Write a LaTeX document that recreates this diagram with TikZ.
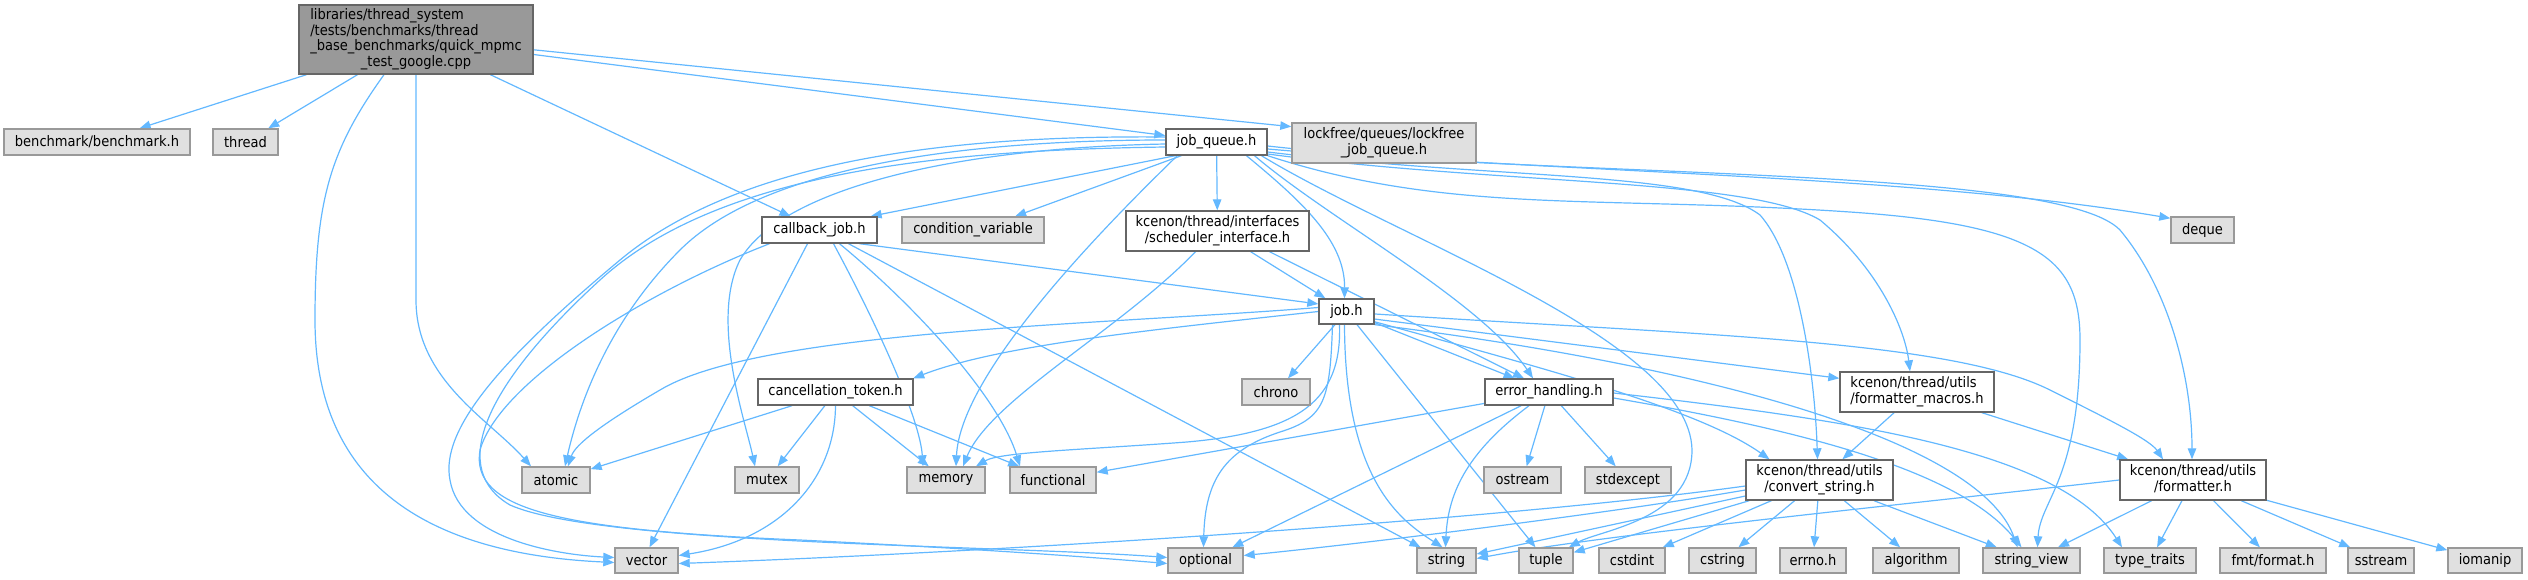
\documentclass[tikz,border=0pt]{standalone}
\usepackage{fontspec}
\setmainfont{DejaVu Sans}[FakeStretch=0.9]
\usetikzlibrary{arrows.meta}
\definecolor{edgec}{HTML}{63B8FF}
\definecolor{grayfill}{HTML}{E0E0E0}
\definecolor{grayline}{HTML}{999999}
\definecolor{darkline}{HTML}{666666}
\definecolor{rootfill}{HTML}{999999}
\pgfdeclarelayer{bg}
\pgfsetlayers{bg,main}
\newcommand{\mlines}[1]{\begin{tabular}{@{}l@{}}#1\end{tabular}}
\newcommand{\lastc}[1]{\multicolumn{1}{@{}c@{}}{#1}}
\begin{document}
\begin{tikzpicture}[x=1pt,y=-1pt,
  every node/.style={font=\fontsize{14.5}{15}\selectfont, inner sep=0pt, text=black},
  rootbox/.style={draw=darkline, fill=rootfill, line width=1.4pt},
  sysbox/.style={draw=grayline, fill=grayfill, line width=1.4pt},
  filebox/.style={draw=darkline, fill=white, line width=1.4pt},
  dep/.style={draw=edgec, line width=1.2pt, -{Triangle[length=11pt,width=8.5pt]}}
]
\useasboundingbox (0,0) rectangle (2528,579);

% row 0
\node[rootbox, minimum width=234pt, minimum height=69pt] (R) at (416,39.5) {\mlines{libraries/thread\_system\\/tests/benchmarks/thread\\\_base\_benchmarks/quick\_mpmc\\\lastc{\_test\_google.cpp}}};
% row 1
\node[sysbox, minimum width=186pt, minimum height=26pt] (benchmark) at (97,142) {benchmark/benchmark.h};
\node[sysbox, minimum width=65pt, minimum height=26pt] (thread) at (245.5,142) {thread};
\node[filebox, minimum width=101pt, minimum height=26pt] (Q) at (1216.5,142) {job\_queue.h};
\node[sysbox, minimum width=184pt, minimum height=40pt] (LF) at (1384,143) {\mlines{lockfree/queues/lockfree\\\lastc{\_job\_queue.h}}};
% row 2
\node[filebox, minimum width=115pt, minimum height=26pt] (C) at (819.5,230) {callback\_job.h};
\node[sysbox, minimum width=142pt, minimum height=26pt] (CV) at (973,230) {condition\_variable};
\node[filebox, minimum width=183pt, minimum height=40pt] (S) at (1217.5,231) {\mlines{kcenon/thread/interfaces\\\lastc{/scheduler\_interface.h}}};
\node[sysbox, minimum width=63pt, minimum height=26pt] (DQ) at (2202.5,230) {deque};
% row 3
\node[filebox, minimum width=55pt, minimum height=25pt] (J) at (1346.5,311.5) {job.h};
% row 4
\node[filebox, minimum width=155pt, minimum height=26pt] (K) at (835.5,392) {cancellation\_token.h};
\node[sysbox, minimum width=68pt, minimum height=26pt] (CH) at (1276,392) {chrono};
\node[filebox, minimum width=128pt, minimum height=26pt] (EH) at (1549,392) {error\_handling.h};
\node[filebox, minimum width=154pt, minimum height=40pt] (FM) at (1917,392) {\mlines{kcenon/thread/utils\\\lastc{/formatter\_macros.h}}};
% row 5
\node[sysbox, minimum width=68pt, minimum height=26pt] (AT) at (556,480) {atomic};
\node[sysbox, minimum width=64pt, minimum height=26pt] (MX) at (767,480) {mutex};
\node[sysbox, minimum width=78pt, minimum height=26pt] (ME) at (946,480) {memory};
\node[sysbox, minimum width=86pt, minimum height=26pt] (FU) at (1053,480) {functional};
\node[sysbox, minimum width=77pt, minimum height=26pt] (OS) at (1522.5,480) {ostream};
\node[sysbox, minimum width=86pt, minimum height=26pt] (SE) at (1628,480) {stdexcept};
\node[filebox, minimum width=147pt, minimum height=40pt] (CS) at (1819.5,480) {\mlines{kcenon/thread/utils\\\lastc{/convert\_string.h}}};
\node[filebox, minimum width=146pt, minimum height=40pt] (F) at (2193,480) {\mlines{kcenon/thread/utils\\\lastc{/formatter.h}}};
% row 6
\node[sysbox, minimum width=63pt, minimum height=25pt] (V) at (646.5,560.5) {vector};
\node[sysbox, minimum width=75pt, minimum height=25pt] (OP) at (1205.5,560.5) {optional};
\node[sysbox, minimum width=59pt, minimum height=25pt] (ST) at (1446.5,560.5) {string};
\node[sysbox, minimum width=54pt, minimum height=25pt] (TU) at (1546,560.5) {tuple};
\node[sysbox, minimum width=66pt, minimum height=25pt] (CI) at (1632,560.5) {cstdint};
\node[sysbox, minimum width=67pt, minimum height=25pt] (CR) at (1722.5,560.5) {cstring};
\node[sysbox, minimum width=66pt, minimum height=25pt] (ER) at (1813,560.5) {errno.h};
\node[sysbox, minimum width=86pt, minimum height=25pt] (AL) at (1916,560.5) {algorithm};
\node[sysbox, minimum width=97pt, minimum height=25pt] (SV) at (2031.5,560.5) {string\_view};
\node[sysbox, minimum width=92pt, minimum height=25pt] (TT) at (2150,560.5) {type\_traits};
\node[sysbox, minimum width=106pt, minimum height=25pt] (FMT) at (2273,560.5) {fmt/format.h};
\node[sysbox, minimum width=66pt, minimum height=25pt] (SS) at (2381,560.5) {sstream};
\node[sysbox, minimum width=74pt, minimum height=25pt] (IO) at (2485,560.5) {iomanip};

\begin{pgfonlayer}{bg}
% root
\draw[dep] (R) -- (benchmark);
\draw[dep] (R) -- (thread);
\draw[dep] ([xshift=-32pt]R.south) .. controls (330,150) and (315,200) .. (315,320) .. controls (315,500) and (450,555) .. ([yshift=-2pt]V.west);
\draw[dep] (R.south) -- (416,300) .. controls (416,380) and (490,420) .. ([xshift=-25pt]AT.north);
\draw[dep] (R) -- (C);
\draw[dep] (R) -- (Q);
\draw[dep] (R.-5) -- (LF.170);
% job_queue
\draw[dep] ([xshift=10pt]Q.south west) -- (C.15);
\draw[dep] ([xshift=16pt]Q.south west) -- (CV.18);
\draw[dep] (Q) -- (S);
\draw[dep] ([xshift=30pt]Q.south) .. controls (1300,200) and (1345,240) .. ([xshift=-2pt]J.north);
\draw[dep] ([xshift=38pt]Q.south) .. controls (1330,220) and (1480,300) .. ([xshift=-16pt]EH.north);
\draw[dep] ([yshift=-4pt]Q.east) .. controls (1500,172) and (1900,172) .. (DQ.160);
\draw[dep] ([yshift=-7pt]Q.east) .. controls (1600,178) and (2060,168) .. (2120,230) .. controls (2170,290) and (2192,380) .. ([xshift=-1pt]F.north);
\draw[dep] ([yshift=-10pt]Q.east) .. controls (1500,180) and (1700,170) .. (1760,215) .. controls (1800,260) and (1815,380) .. ([xshift=-2pt]CS.north);
\draw[dep] ([yshift=-12pt]Q.east) .. controls (1500,185) and (1750,178) .. (1820,220) .. controls (1880,270) and (1905,330) .. ([xshift=-7pt]FM.north);
\draw[dep] (Q.south east) .. controls (1450,215) and (1600,195) .. (1850,212) .. controls (2040,225) and (2080,260) .. (2080,340) .. controls (2080,480) and (2040,500) .. ([xshift=6pt]SV.north);
\draw[dep] ([xshift=45pt]Q.south) .. controls (1400,240) and (1690,340) .. (1692,450) .. controls (1692,520) and (1600,530) .. (TU.30);
\draw[dep] ([yshift=2pt]Q.west) .. controls (950,140) and (760,170) .. (680,250) .. controls (610,320) and (580,400) .. ([xshift=9pt]AT.north);
\draw[dep] ([yshift=-2pt]Q.west) .. controls (950,148) and (780,190) .. (740,260) .. controls (710,320) and (745,420) .. ([xshift=-12pt]MX.north);
\draw[dep] ([yshift=5pt]Q.west) .. controls (950,135) and (740,160) .. (620,260) .. controls (500,360) and (440,430) .. (450,480) .. controls (460,540) and (560,555) .. ([yshift=3pt]V.west);
\draw[dep] ([yshift=-5pt]Q.west) .. controls (950,150) and (720,170) .. (600,280) .. controls (480,390) and (450,470) .. (510,505) .. controls (600,545) and (1000,545) .. ([yshift=3pt]OP.west);
\draw[dep] ([xshift=12pt]Q.south west) .. controls (1080,250) and (960,380) .. ([xshift=10pt]ME.north);
% callback_job
\draw[dep] ([xshift=40pt]C.south) -- (J.165);
\draw[dep] ([xshift=-12pt]C.south) -- ([xshift=3pt]V.north);
\draw[dep] ([xshift=14pt]C.south) .. controls (880,330) and (920,420) .. ([xshift=-23pt]ME.north);
\draw[dep] ([xshift=20pt]C.south) .. controls (920,310) and (1000,400) .. ([xshift=-33pt]FU.north);
\draw[dep] ([xshift=29pt]C.south) -- ([xshift=-26pt]ST.north);
\draw[dep] ([xshift=-50pt]C.south) .. controls (650,290) and (500,380) .. (480,450) .. controls (470,510) and (560,530) .. (800,540) .. controls (1000,550) and (1100,558) .. ([yshift=-3pt]OP.west);
% scheduler_interface
\draw[dep] (S) -- (J);
\draw[dep] ([xshift=52pt]S.south) -- ([xshift=-25pt]EH.north);
\draw[dep] ([xshift=-22pt]S.south) .. controls (1120,330) and (990,400) .. ([xshift=17pt]ME.north);
% job.h
\draw[dep] (J.west) .. controls (1150,330) and (1000,345) .. (K.10);
\draw[dep] (J) -- (CH);
\draw[dep] (J) -- (EH);
\draw[dep] (J.-15) -- (FM.170);
\draw[dep] (J.-20) .. controls (1550,370) and (1700,410) .. ([xshift=-50pt]CS.north);
\draw[dep] (J.-5) .. controls (1700,335) and (1950,340) .. (2050,390) .. controls (2110,420) and (2150,440) .. ([xshift=-30pt]F.north);
\draw[dep] (J.-25) .. controls (1700,365) and (1980,440) .. ([xshift=-14pt]SV.north);
\draw[dep] (J) -- (TU);
\draw[dep] ([xshift=-2pt]J.south) .. controls (1345,480) and (1400,520) .. ([xshift=-4pt]ST.north);
\draw[dep] ([xshift=-14pt]J.south) .. controls (1330,400) and (1325,418) .. (1280,432) .. controls (1225,450) and (1205,480) .. ([xshift=-2pt]OP.north);
\draw[dep] ([xshift=-7pt]J.south) .. controls (1342,400) and (1300,432) .. (1187,442) .. controls (1080,450) and (1000,452) .. ([xshift=30pt]ME.north);
\draw[dep] ([yshift=4pt]J.west) .. controls (1100,325) and (760,330) .. (660,390) .. controls (600,425) and (575,445) .. ([xshift=12pt]AT.north);
% cancellation_token
\draw[dep] (K) -- (AT);
\draw[dep] (K) -- (MX);
\draw[dep] (K) -- (ME);
\draw[dep] (K) -- (FU);
\draw[dep] (K.south) .. controls (835,480) and (780,540) .. ([yshift=5pt]V.east);
% error_handling
\draw[dep] (EH) -- (FU);
\draw[dep] (EH) -- (OP);
\draw[dep] ([xshift=-20pt]EH.south) .. controls (1470,450) and (1448,490) .. ([xshift=-1pt]ST.north);
\draw[dep] (EH) -- (OS);
\draw[dep] (EH) -- (SE);
\draw[dep] ([yshift=-6pt]EH.east) .. controls (1800,430) and (1960,470) .. ([xshift=-10pt]SV.north);
\draw[dep] ([yshift=-1pt]EH.east) .. controls (1850,420) and (2060,450) .. ([xshift=-28pt]TT.north);
% formatter_macros
\draw[dep] (FM) -- (CS);
\draw[dep] (FM) -- (F);
% convert_string
\draw[dep] ([yshift=-6pt]CS.west) .. controls (1500,520) and (1000,552) .. ([yshift=-3pt]V.east);
\draw[dep] ([yshift=-10pt]CS.west) .. controls (1600,515) and (1350,545) .. ([yshift=5pt]OP.east);
\draw[dep] (CS) -- (ST);
\draw[dep] (CS) -- (TU);
\draw[dep] (CS) -- (CI);
\draw[dep] (CS) -- (CR);
\draw[dep] (CS) -- (ER);
\draw[dep] (CS) -- (AL);
\draw[dep] (CS) -- (SV);
% formatter
\draw[dep] (F.west) .. controls (1900,505) and (1600,535) .. ([yshift=2pt]ST.east);
\draw[dep] (F) -- (SV);
\draw[dep] (F) -- (TT);
\draw[dep] (F) -- (FMT);
\draw[dep] (F) -- (SS);
\draw[dep] (F) -- (IO);
\end{pgfonlayer}
\end{tikzpicture}
\end{document}
